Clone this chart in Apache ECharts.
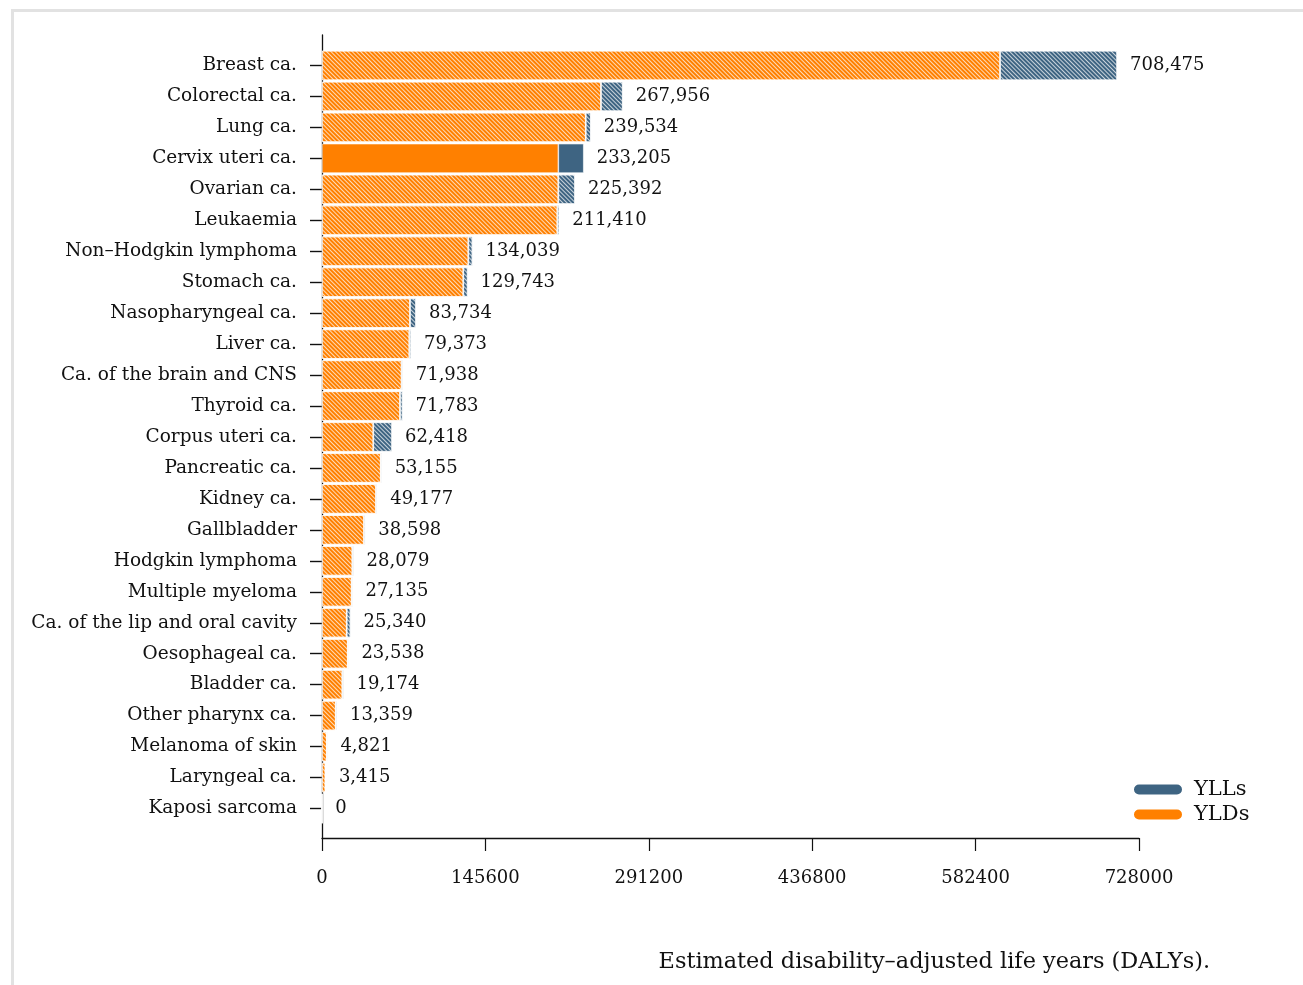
<!DOCTYPE html>
<html>
<head>
<meta charset="utf-8">
<script src="https://cdn.jsdelivr.net/npm/echarts@6/dist/echarts.min.js"></script>
<style>
html,body{margin:0;padding:0;background:#fff;}
#chart{width:1303px;height:985px;}
</style>
</head>
<body>
<div id="chart"></div>
<script>
const categories = ["Breast ca.","Colorectal ca.","Lung ca.","Cervix uteri ca.","Ovarian ca.","Leukaemia","Non\u2013Hodgkin lymphoma","Stomach ca.","Nasopharyngeal ca.","Liver ca.","Ca. of the brain and CNS","Thyroid ca.","Corpus uteri ca.","Pancreatic ca.","Kidney ca.","Gallbladder","Hodgkin lymphoma","Multiple myeloma","Ca. of the lip and oral cavity","Oesophageal ca.","Bladder ca.","Other pharynx ca.","Melanoma of skin","Laryngeal ca.","Kaposi sarcoma"];
const ylds = [604200,248600,235000,210600,210600,209700,130400,125900,78400,77800,70900,69500,45700,52300,48100,37400,27000,26400,22000,22900,18100,12200,4200,3000,0];
const ylls = [104275,19356,4534,22605,14792,1710,3639,3843,5334,1573,1038,2283,16718,855,1077,1198,1079,735,3340,638,1074,1159,621,415,0];
const totals = [708475,267956,239534,233205,225392,211410,134039,129743,83734,79373,71938,71783,62418,53155,49177,38598,28079,27135,25340,23538,19174,13359,4821,3415,0];
const xTicks = [0,145600,291200,436800,582400,728000];
const solidIndex = 3; // Cervix uteri ca. drawn without hatching

const FONT = "DejaVu Serif";
const ORANGE = "#FF8000";
const BLUE = "#3E6482";
const hatch = {
  symbol: 'rect',
  symbolSize: 1,
  color: 'rgba(255,255,255,0.72)',
  dashArrayX: [1, 0],
  dashArrayY: [0.8, 1.4],
  rotation: Math.PI / 4
};
function withDecal(arr) {
  return arr.map((v, i) => i === solidIndex ? { value: v } : { value: v, itemStyle: { decal: hatch } });
}
const pill = 'path://M6,0 L44,0 A6,6 0 0 1 44,12 L6,12 A6,6 0 0 1 6,0 Z';

const chart = echarts.init(document.getElementById('chart'), null, { renderer: 'canvas' });
chart.setOption({
  animation: false,
  backgroundColor: '#fff',
  graphic: [{
    type: 'rect', left: 10, top: 8, z: -10,
    shape: { width: 1400, height: 1100 },
    style: { fill: 'none', stroke: '#e2e2e2', lineWidth: 3 }
  }],
  title: {
    text: 'Estimated disability\u2013adjusted life years (DALYs).',
    right: 88, top: 946,
    textStyle: { fontFamily: FONT, fontSize: 22.4, fontWeight: 'normal', color: '#111' }
  },
  legend: {
    orient: 'vertical',
    left: 1127, top: 774,
    itemWidth: 50, itemHeight: 12, itemGap: 4,
    icon: pill,
    data: ['YLLs', 'YLDs'],
    textStyle: { fontFamily: FONT, fontSize: 21, color: '#111', padding: [0, 0, 0, 6] }
  },
  grid: [
    { left: 322, right: 164, top: 35, bottom: 147 },
    { left: 322, right: 164, top: 50, bottom: 161 }
  ],
  xAxis: [
    {
      gridIndex: 0, type: 'value', min: 0, max: 728000, interval: 145600,
      axisLine: { show: true, onZero: false, lineStyle: { color: '#111', width: 1.3 } },
      axisTick: { show: true, length: 13, lineStyle: { color: '#111', width: 1.2 } },
      axisLabel: { margin: 31, fontFamily: FONT, fontSize: 18, color: '#111',
        formatter: v => xTicks.indexOf(v) >= 0 ? String(v) : '' },
      splitLine: { show: false }
    },
    { gridIndex: 1, type: 'value', min: 0, max: 728000, show: false }
  ],
  yAxis: [
    {
      gridIndex: 0, type: 'value', min: 0, max: 1,
      axisLine: { show: true, lineStyle: { color: '#111', width: 1.3 } },
      axisTick: { show: false }, axisLabel: { show: false }, splitLine: { show: false }
    },
    {
      gridIndex: 1, type: 'category', inverse: true, data: categories,
      axisLine: { show: false },
      axisTick: { show: true, alignWithLabel: true, length: 12, lineStyle: { color: '#111', width: 1.4 } },
      axisLabel: { margin: 25, fontFamily: FONT, fontSize: 18.5, color: '#111', padding: [6, 0, 0, 0] },
      splitLine: { show: false }
    }
  ],
  series: [
    {
      name: 'YLDs', type: 'bar', stack: 'd', xAxisIndex: 1, yAxisIndex: 1,
      barCategoryGap: '5%',
      itemStyle: { color: ORANGE, borderColor: '#fff', borderWidth: 0.6 },
      data: withDecal(ylds)
    },
    {
      name: 'YLLs', type: 'bar', stack: 'd', xAxisIndex: 1, yAxisIndex: 1,
      barCategoryGap: '5%',
      itemStyle: { color: BLUE, borderColor: '#fff', borderWidth: 0.6 },
      label: {
        show: true, position: 'right', distance: 13,
        fontFamily: FONT, fontSize: 18, color: '#111',
        formatter: p => totals[p.dataIndex].toLocaleString('en-US')
      },
      data: withDecal(ylls)
    }
  ]
});
</script>
</body>
</html>
